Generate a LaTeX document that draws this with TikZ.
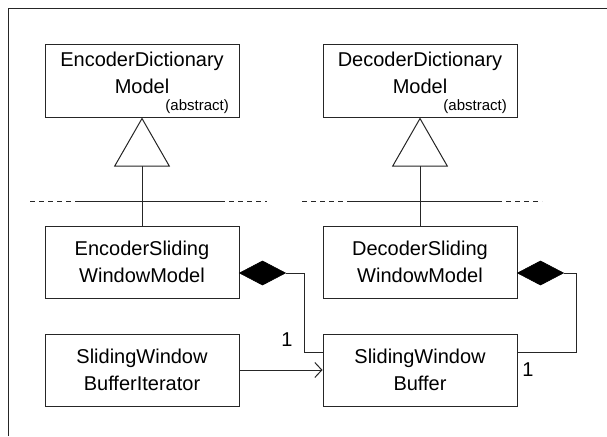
\documentclass[tikz,border=0pt]{standalone}
\usepackage{fontspec}
\setmainfont{Liberation Sans}
\usetikzlibrary{arrows.meta,calc}
\tikzset{
  x=1pt, y=-1pt,
  ln/.style={draw=black!85, line width=1pt},
  box/.style={ln, minimum width=194pt, minimum height=72pt, inner sep=0pt},
  cls/.style={align=center, inner sep=0pt, font=\fontsize{20}{27}\selectfont},
  tag/.style={inner sep=0pt, font=\fontsize{15}{18}\selectfont},
  mult/.style={inner sep=0pt, font=\fontsize{20}{24}\selectfont},
  inherit/.style={ln, {Triangle[open, length=49pt, width=56pt, fill=white]}-},
  diam/.style={draw=black, fill=black, line width=0.6pt, line join=miter},
  assoc/.style={ln, -{Straight Barb[length=7pt, width=15pt, line width=1pt]}},
  sep/.style={ln, dash pattern=on 5pt off 4pt}
}
\begin{document}
\begin{tikzpicture}
\useasboundingbox (0,0) rectangle (607,436);
% frame
\draw[ln] (8,436) -- (8,9) -- (607,9);

% abstract dictionary models
\node[box] (edm) at (142,81) {};
\node[cls] (edmt) at (142,73) {EncoderDictionary\\Model};
\node[tag, anchor=base east] (edma) at (229,110) {(abstract)};
\node[box] (ddm) at (420,81) {};
\node[cls] (ddmt) at (420,73) {DecoderDictionary\\Model};
\node[tag, anchor=base east] (ddma) at (507,110) {(abstract)};

% sliding window models
\node[box, cls] (esw) at (142,262) {EncoderSliding\\WindowModel};
\node[box, cls] (dsw) at (420,262) {DecoderSliding\\WindowModel};

% buffer and iterator
\node[box, cls] (swi) at (142,370) {SlidingWindow\\BufferIterator};
\node[box, cls] (swb) at (420,370) {SlidingWindow\\Buffer};

% package separators
\draw[sep] (30,201) -- (75,201);
\draw[ln] (75,201) -- (220,201);
\draw[sep] (220,201) -- (267,201);
\draw[sep] (302,201) -- (347,201);
\draw[ln] (347,201) -- (497,201);
\draw[sep] (497,201) -- (542,201);

% generalisation
\draw[inherit] (edm.south) -- (esw.north);
\draw[inherit] (ddm.south) -- (dsw.north);

% composition diamonds, level with the lower text line
\coordinate (es) at ($(esw.east)+(0,11)$);
\coordinate (ds) at ($(dsw.east)+(0,11)$);
\coordinate (ed) at ($(es)+(46,0)$);
\coordinate (dd) at ($(ds)+(46,0)$);
\draw[diam] (es) -- ++(23,-12) -- (ed) -- ++(-23,12) -- cycle;
\draw[diam] (ds) -- ++(23,-12) -- (dd) -- ++(-23,12) -- cycle;

% compositions
\coordinate (ec) at (304,352);
\coordinate (dc) at (576,352);
\draw[ln] (ed) -| (ec) -- (ec -| swb.west);
\draw[ln] (dd) -| (dc) -- (dc -| swb.east);

% navigation
\draw[assoc] (swi.east) -- (swb.west);

% multiplicities
\node[mult, anchor=base] (m1) at (287,346) {1};
\node[mult, anchor=base] (m2) at (528,376) {1};
\end{tikzpicture}
\end{document}
